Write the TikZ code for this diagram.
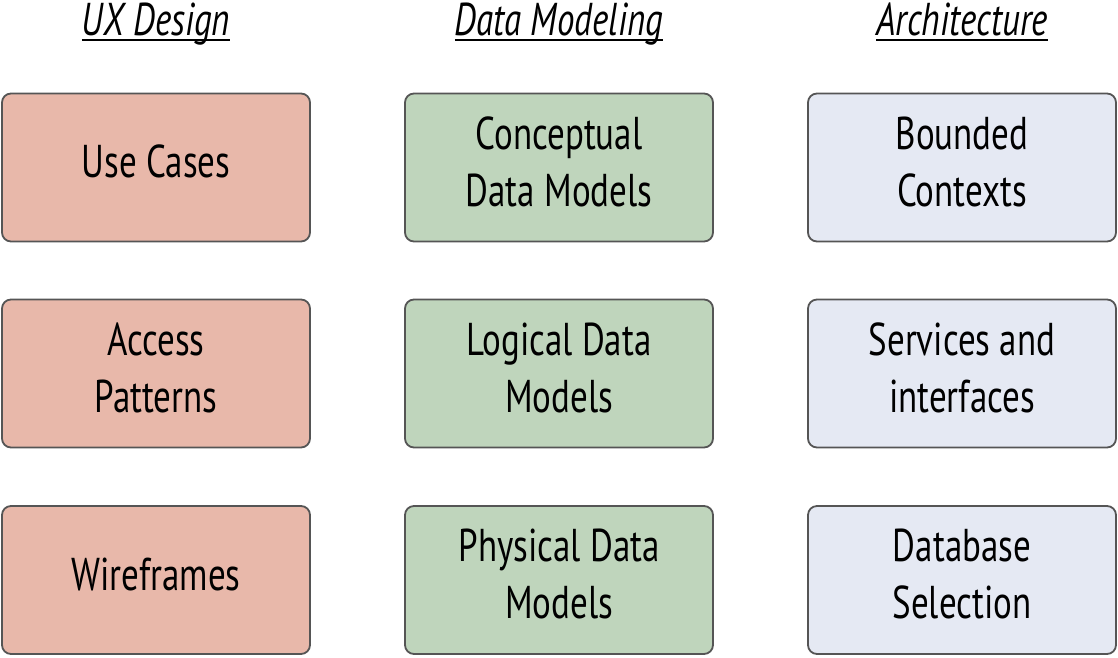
\documentclass[tikz,border=0pt]{standalone}
\usepackage{fontspec}
\setmainfont{PT Sans}[FakeStretch=0.76]
\definecolor{uxfill}{HTML}{E8B8AA}
\definecolor{dmfill}{HTML}{BFD5BC}
\definecolor{arfill}{HTML}{E5E9F3}
\definecolor{edge}{HTML}{555555}
\newcommand\ulbase[1]{\setbox0\hbox{#1}\rlap{\rule[-5.5pt]{\wd0}{2pt}}\box0}
\begin{document}
\begin{tikzpicture}[x=1pt,y=-1pt,
  card/.style={draw=edge,line width=1.8pt,rounded corners=9pt,minimum width=308pt,minimum height=148pt,
    inner sep=0pt,align=center,text depth=12pt,font=\fontsize{46}{57}\selectfont},
  ux/.style={card,fill=uxfill},
  dm/.style={card,fill=dmfill},
  ar/.style={card,fill=arfill},
  head/.style={inner sep=0pt,anchor=base,font=\fontsize{46}{50}\selectfont\itshape}]
\useasboundingbox (0,0) rectangle (1118,657);
\node[head] (h1) at (156,35) {\ulbase{UX Design}};
\node[head] (h2) at (559,35) {\ulbase{Data Modeling}};
\node[head] (h3) at (962,35) {\ulbase{Architecture}};
\node[ux] (u1) at (156,167.5) {Use Cases};
\node[ux] (u2) at (156,373.5) {Access\\Patterns};
\node[ux] (u3) at (156,580) {Wireframes};
\node[dm] (d1) at (559,167.5) {Conceptual\\Data Models};
\node[dm] (d2) at (559,373.5) {Logical Data\\Models};
\node[dm] (d3) at (559,580) {Physical Data\\Models};
\node[ar] (a1) at (962,167.5) {Bounded\\Contexts};
\node[ar] (a2) at (962,373.5) {Services and\\interfaces};
\node[ar] (a3) at (962,580) {Database\\Selection};
\end{tikzpicture}
\end{document}
